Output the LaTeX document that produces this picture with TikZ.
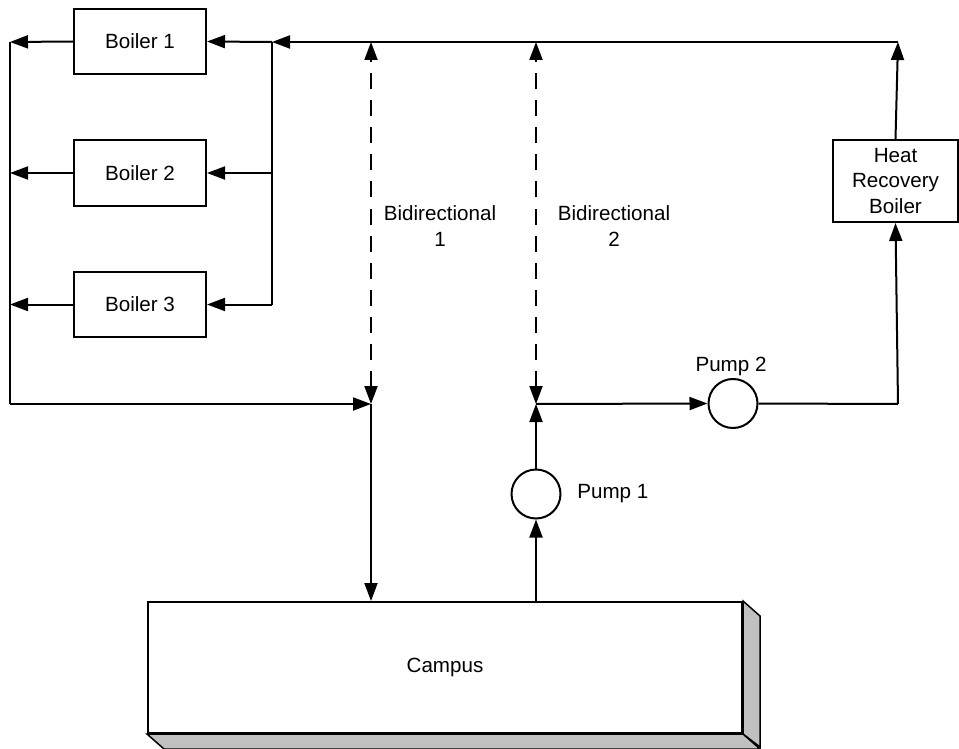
\documentclass[tikz,border=0pt]{standalone}
\usepackage{fontspec}
\setmainfont{Liberation Sans}
\usetikzlibrary{arrows.meta,calc}
\definecolor{shade}{HTML}{C0C0C0}
\begin{document}
\begin{tikzpicture}[x=1pt,y=-1pt,
  line width=2pt,
  font=\fontsize{20.6}{26}\selectfont,
  >={Triangle[length=18pt,width=13pt]},
  box/.style={draw,rectangle,minimum width=132pt,minimum height=65pt,inner sep=0pt},
  pumpc/.style={draw,circle,minimum size=49pt,inner sep=0pt},
  dashline/.style={dash pattern=on 16pt off 11pt}]
\useasboundingbox (0,0) rectangle (959,749);
% boilers
\node[box] (b1) at (140,41.5) {Boiler 1};
\node[box] (b2) at (140,173) {Boiler 2};
\node[box] (b3) at (140,304.5) {Boiler 3};
\node[draw,rectangle,minimum width=125pt,minimum height=82pt,inner sep=0pt,align=center,font=\fontsize{20.6}{25.5}\selectfont] (hrb) at (895.5,181) {Heat\\Recovery\\Boiler};
% campus
\node[draw,rectangle,minimum width=594pt,minimum height=131pt,inner sep=0pt] (campus) at (445,667.5) {Campus};
\draw[fill=shade,line width=1.5pt] (campus.north east) -- ++(17,15) -- ++(0,131) -- (campus.south east) -- cycle;
\draw[fill=shade,line width=1.5pt] (campus.south west) -- ++(17,15) -- ($(campus.south east)+(17,15)$) -- (campus.south east) -- cycle;
% pumps
\node[pumpc] (p1) at (536,494) {};
\node[anchor=west] (p1l) at (573,494) {Pump 1};
\node[pumpc] (p2) at (733,403.5) {};
\node[anchor=south] (p2l) at (731,380) {Pump 2};
% labels
\node[align=center] (bd1) at (440,226) {Bidirectional\\1};
\node[align=center] (bd2) at (614,226) {Bidirectional\\2};
% coordinates
\coordinate (tr) at (898,42);
\coordinate (tl) at (272,42);
\coordinate (bl) at (272,304.5);
\coordinate (ltop) at (10,42);
\coordinate (lmid) at (10,173);
\coordinate (lbot) at (10,304.5);
\coordinate (lcorner) at (10,404);
\coordinate (j1) at (371,404);
\coordinate (j1t) at (371,42);
\coordinate (j2) at (536,404);
\coordinate (j2t) at (536,42);
\coordinate (hrcorner) at (898,404);
% top main line
\draw[->] (tr) -- (tl);
\draw (tl) -- (bl);
\draw[->] (tl) -- (b1.east);
\draw[->] (tl |- b2.east) -- (b2.east);
\draw[->] (bl) -- (b3.east);
% left return
\draw[->] (b1.west) -- (ltop);
\draw[->] (b2.west) -- (lmid);
\draw[->] (b3.west) -- (lbot);
\draw (ltop) -- (lcorner);
\draw[->] (lcorner) -- (j1);
% bidirectional
\draw[<->,dashline] (j1) -- (j1t);
\draw[<->,dashline] (j2) -- (j2t);
% campus supply
\draw[->] (j1) -- (j1 |- campus.north);
\draw[->] (j2 |- campus.north) -- (p1.south);
\draw[->] (p1.north) -- (j2);
\draw[->] (j2) -- (p2.west);
\draw (p2.east) -- (hrcorner);
\draw[->] (hrcorner) -- (hrb.south);
\draw[->] (hrb.north) -- (tr);
\end{tikzpicture}
\end{document}
